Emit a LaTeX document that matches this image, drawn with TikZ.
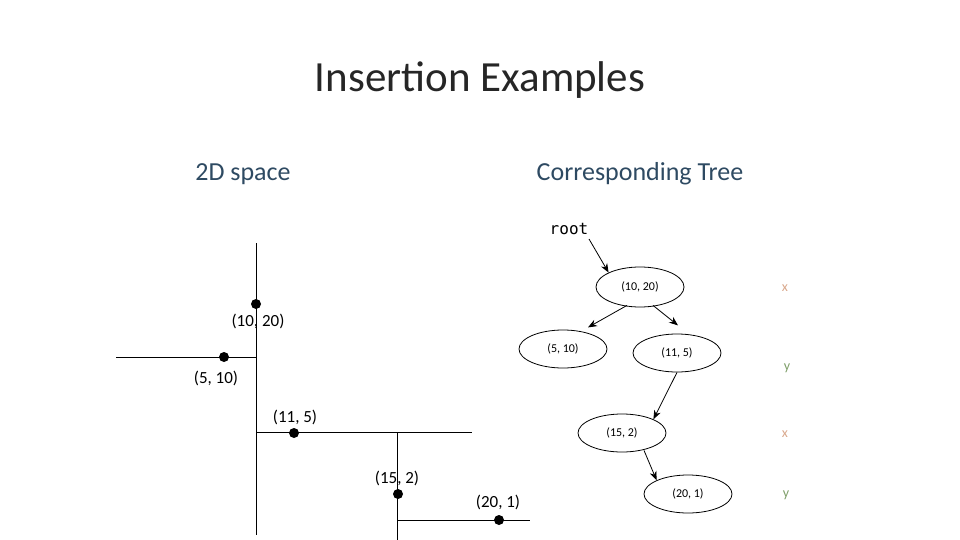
\documentclass[tikz,border=0pt]{standalone}
\usepackage{fontspec}
\setmainfont{Carlito}
\setmonofont{DejaVu Sans Mono}
\usetikzlibrary{shapes.geometric,arrows.meta}
\definecolor{head}{HTML}{2E4A62}
\definecolor{xc}{HTML}{D9A88C}
\definecolor{yc}{HTML}{7F9F6A}
\begin{document}
\begin{tikzpicture}[x=1pt,y=-1pt,
  kd/.style={draw,ellipse,thick,minimum width=88pt,minimum height=38pt,inner sep=0pt,font=\fontsize{12}{13}\selectfont},
  dot/.style={circle,fill=black,inner sep=0pt,minimum size=10pt},
  lbl/.style={font=\fontsize{17}{18}\selectfont},
  ar/.style={-{Stealth[length=9pt,width=7pt]},thick},
  ax/.style={font=\fontsize{14}{15}\selectfont}]
\useasboundingbox (0,0) rectangle (960,540);
\node[font=\fontsize{43}{45}\selectfont,text=black!85] (title) at (480,80) {Insertion Examples};
\node[font=\fontsize{26}{28}\selectfont,text=head] (h1) at (243,174) {2D space};
\node[font=\fontsize{26}{28}\selectfont,text=head] (h2) at (640,174) {Corresponding Tree};
% 2D space
\draw[semithick] (256,243) -- (256,535);
\draw[semithick] (116,357) -- (257,357);
\draw[semithick] (257,432) -- (472,432);
\draw[semithick] (397,432) -- (397,540);
\draw[semithick] (397,520) -- (530,520);
\node[dot] (p1) at (256,304) {};
\node[dot] (p2) at (224,357) {};
\node[dot] (p3) at (294,433) {};
\node[dot] (p4) at (398,494) {};
\node[dot] (p5) at (499,520) {};
\node[lbl] (l1) at (258,321) {(10, 20)};
\node[lbl] (l2) at (216,378) {(5, 10)};
\node[lbl] (l3) at (295,417) {(11, 5)};
\node[lbl] (l4) at (397,478) {(15, 2)};
\node[lbl] (l5) at (498,502) {(20, 1)};
% tree
\node[font=\ttfamily\fontsize{16}{17}\selectfont] (root) at (569,229) {root};
\node[kd,minimum height=40pt] (n1) at (640,287) {(10, 20)};
\node[kd] (n2) at (563,349) {(5, 10)};
\node[kd] (n3) at (677,353) {(11, 5)};
\node[kd] (n4) at (622,433) {(15, 2)};
\node[kd] (n5) at (688,494) {(20, 1)};
\coordinate (r0) at (589,239);
\draw[ar] (r0) -- (n1.north west);
\draw[ar] (n1.south) ++(-13,-2) -- ++(-39,22);
\draw[ar] (n1.south) ++(13,-2) -- ++(25,20);
\draw[ar] (n3.south) -- (n4.north east);
\draw[ar] (n4.south) ++(22,-2) -- (n5.north west);
\node[ax,text=xc] (x1) at (785,288) {x};
\node[ax,text=yc] (y1) at (787,368) {y};
\node[ax,text=xc] (x2) at (785,434) {x};
\node[ax,text=yc] (y2) at (786,495) {y};
\end{tikzpicture}
\end{document}
